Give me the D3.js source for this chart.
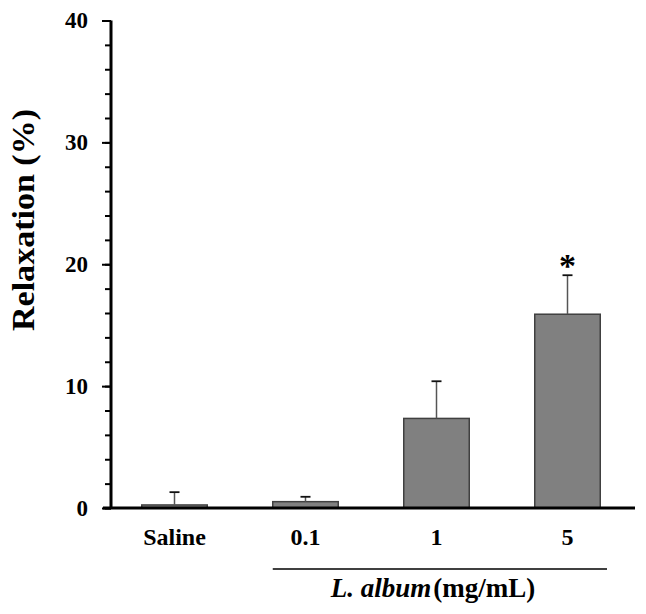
<!DOCTYPE html>
<html>
<head>
<meta charset="utf-8">
<script src="https://cdn.jsdelivr.net/npm/d3@7"></script>
<style>
body { margin: 0; background: #fff; }
text { font-family: "Liberation Serif", "Times New Roman", serif; font-weight: bold; }
</style>
</head>
<body>
<div id="chart"></div>
<script>
var categories = ["Saline", "0.1", "1", "5"];
var means = [0.25, 0.52, 7.35, 15.9];
var errors = [1.05, 0.4, 3.05, 3.2];
var marks = ["", "", "", "*"];
var majorTicks = [0, 10, 20, 30, 40];
var minorTicks = d3.range(0, 41, 2);

var width = 646,
    height = 614,
    axisX = 111,
    baseY = 508,
    topY = 20.5;

var svg = d3.select("#chart").append("svg")
    .attr("width", width)
    .attr("height", height);

var xScale = d3.scaleBand()
    .domain(categories)
    .range([109, 633])
    .paddingInner(0.5)
    .paddingOuter(0.25);

var yScale = d3.scaleLinear()
    .domain([0, 40])
    .range([baseY, topY]);

// bars
svg.selectAll("rect.bar")
    .data(categories)
    .enter()
    .append("rect")
    .attr("class", "bar")
    .attr("x", function(d){ return xScale(d); })
    .attr("width", xScale.bandwidth())
    .attr("y", function(d, i){ return yScale(means[i]); })
    .attr("height", function(d, i){ return yScale(0) - yScale(means[i]); })
    .style("fill", "#808080")
    .style("stroke", "#404040")
    .style("stroke-width", "1.5px");

// error bars
svg.selectAll("g.err")
    .data(categories)
    .enter()
    .append("g")
    .attr("class", "err")
    .attr("transform", function(d){
        return "translate(" + (xScale(d) + xScale.bandwidth() / 2) + ",0)";
    })
    .each(function(d, i){
        d3.select(this).append("line")
            .attr("x1", 0).attr("x2", 0)
            .attr("y1", yScale(means[i]))
            .attr("y2", yScale(means[i] + errors[i]))
            .style("stroke", "#555")
            .style("stroke-width", "1.5px");
        d3.select(this).append("line")
            .attr("x1", -5).attr("x2", 5)
            .attr("y1", yScale(means[i] + errors[i]))
            .attr("y2", yScale(means[i] + errors[i]))
            .style("stroke", "#111")
            .style("stroke-width", "1.8px");
        d3.select(this).append("text")
            .attr("x", 0)
            .attr("y", yScale(means[i] + errors[i]) + 2)
            .attr("text-anchor", "middle")
            .style("font-size", "34px")
            .text(marks[i]);
    });

// y axis
var yAxisG = svg.append("g")
    .attr("transform", "translate(" + axisX + ",0)");

yAxisG.append("g")
    .call(d3.axisLeft(yScale).tickValues(minorTicks).tickSize(6).tickFormat(""))
    .call(function(g){ g.select(".domain").remove(); })
    .selectAll("line").style("stroke", "#000").style("stroke-width", "2px");

yAxisG.append("g")
    .call(d3.axisLeft(yScale).tickValues(majorTicks).tickSize(9).tickPadding(14))
    .call(function(g){
        g.select(".domain").remove();
        g.selectAll("line").style("stroke", "#000").style("stroke-width", "2px");
        g.selectAll("text")
            .style("font-size", "23px")
            .style("font-family", "'Liberation Serif', serif")
            .style("font-weight", "bold")
            .attr("fill", "#000");
    });

yAxisG.append("line")
    .attr("x1", 0).attr("x2", 0)
    .attr("y1", topY).attr("y2", baseY)
    .style("stroke", "#000")
    .style("stroke-width", "3px");

// x axis
svg.append("line")
    .attr("x1", 103).attr("x2", 635)
    .attr("y1", baseY).attr("y2", baseY)
    .style("stroke", "#000")
    .style("stroke-width", "3px");

svg.selectAll("text.cat")
    .data(categories)
    .enter()
    .append("text")
    .attr("class", "cat")
    .attr("x", function(d){ return xScale(d) + xScale.bandwidth() / 2; })
    .attr("y", 545)
    .attr("text-anchor", "middle")
    .style("font-size", "24px")
    .text(function(d){ return d; });

// group line and label
svg.append("line")
    .attr("x1", xScale("0.1")).attr("x2", 607)
    .attr("y1", 569).attr("y2", 569)
    .style("stroke", "#000")
    .style("stroke-width", "1.5px");

var groupLabel = svg.append("text")
    .attr("x", 433)
    .attr("y", 597)
    .attr("text-anchor", "middle")
    .style("font-size", "27px");
groupLabel.append("tspan").style("font-style", "italic").text("L. album");
groupLabel.append("tspan").attr("dx", 2).text("(mg/mL)");

// y label
svg.append("text")
    .attr("transform", "translate(34,220) rotate(-90)")
    .attr("text-anchor", "middle")
    .attr("textLength", 222)
    .attr("lengthAdjust", "spacingAndGlyphs")
    .style("font-size", "31px")
    .text("Relaxation (%)");
</script>
</body>
</html>
